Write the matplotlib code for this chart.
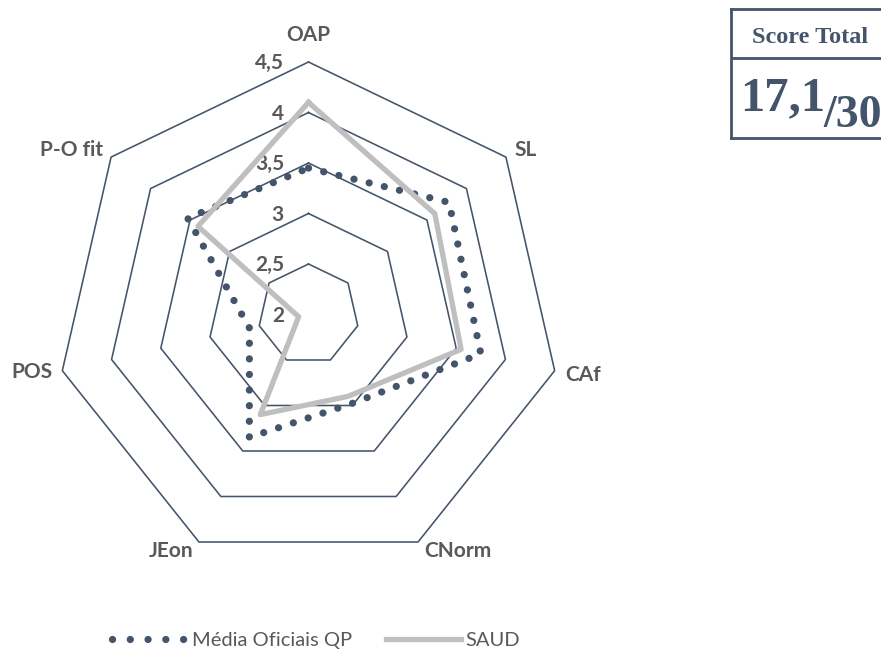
import numpy as np
import matplotlib.pyplot as plt
from matplotlib.lines import Line2D

# dimensões avaliadas (sentido horário a partir do topo)
categorias = ['OAP', 'SL', 'CAf', 'CNorm', 'JEon', 'POS', 'P-O fit']
media_qp = [3.45, 3.78, 3.75, 2.98, 3.35, 2.60, 3.53]
saud = [4.10, 3.60, 3.55, 2.90, 3.10, 2.10, 3.40]
niveis = [2.0, 2.5, 3.0, 3.5, 4.0, 4.5]
niveis_txt = ['2', '2,5', '3', '3,5', '4', '4,5']
series_txt = ['Média Oficiais QP', 'SAUD']
score_txt = '17,1'
score_max_txt = '/30'

azul = '#44546A'
cinza = '#BFBFBF'
cinza_txt = '#595959'
fonte = 'Lato'

# deslocamento (px) dos rótulos das dimensões em relação ao vértice exterior
desloc_rot = [(0, 26.6), (19.3, 7), (28, -4.3), (39.4, -8.9),
              (-27.9, -8.9), (-30, -1.3), (-40, 7)]

fig = plt.figure(figsize=(8.81, 6.5), dpi=100)
ax = fig.add_axes([0, 0, 1, 1])
ppu = 101.0            # pixeis por unidade da escala
cx, cy = 308.5, 314.5  # centro do radar (px a partir do canto sup. esq.)
ax.set_xlim(-cx / ppu, (881 - cx) / ppu)
ax.set_ylim(-(650 - cy) / ppu, cy / ppu)
ax.axis('off')

vmin = niveis[0]
ang = np.arange(len(categorias)) * 2 * np.pi / len(categorias)


def fecha(vals):
    r = np.asarray(vals, dtype=float) - vmin
    x, y = r * np.sin(ang), r * np.cos(ang)
    return np.append(x, x[0]), np.append(y, y[0])


# heptágonos da grelha
for v in niveis[1:]:
    x, y = fecha([v] * len(categorias))
    ax.plot(x, y, color=azul, lw=1.15, zorder=1)

# rótulos da escala
for v, t in zip(niveis, niveis_txt):
    ax.annotate(t, (0, v - vmin), xytext=(-24.5, -1), textcoords='offset pixels',
                ha='right', va='center', fontsize=15, fontweight='bold',
                color=cinza_txt, family=fonte)

# rótulos das dimensões
rmax = niveis[-1] - vmin
for a, nome, d in zip(ang, categorias, desloc_rot):
    ax.annotate(nome, (rmax * np.sin(a), rmax * np.cos(a)), xytext=d,
                textcoords='offset pixels', ha='center', va='center',
                fontsize=15, fontweight='bold', color=cinza_txt, family=fonte)

pontilhado = (0, (0.01, 2.15))
x, y = fecha(media_qp)
ax.plot(x, y, color=azul, lw=5.2, ls=pontilhado, dash_capstyle='round', zorder=3)
x, y = fecha(saud)
ax.plot(x, y, color=cinza, lw=3.8, solid_joinstyle='round', zorder=4)

handles = [Line2D([], [], color=azul, lw=5.2, ls=(0, (0.01, 2.45)),
                  dash_capstyle='round'),
           Line2D([], [], color=cinza, lw=3.8)]
fig.legend(handles, series_txt, loc='center', bbox_to_anchor=(316 / 881, 10 / 650),
           ncol=2, frameon=False, handlelength=3.75, handletextpad=0.2,
           columnspacing=1.7, labelcolor=cinza_txt,
           prop=dict(family=fonte, size=14.5))

# caixa do score total
bx = fig.add_axes([730.7 / 881, (650 - 138.3) / 650, 200 / 881, 129 / 650])
bx.set_xticks([])
bx.set_yticks([])
bx.patch.set_alpha(0)
for s in bx.spines.values():
    s.set_color(azul)
    s.set_linewidth(2)
bx.axhline(0.62, color=azul, lw=2)
bx.text(0.397, 0.736, 'Score Total', ha='center', va='baseline', color=azul,
        fontsize=17.5, fontweight='bold', family='Liberation Serif')
bx.text(0.0465, 0.219, score_txt, ha='left', va='baseline', color=azul,
        fontsize=35, fontweight='bold', family='Liberation Serif')
bx.text(0.463, 0.09, score_max_txt, ha='left', va='baseline', color=azul,
        fontsize=33, fontweight='bold', family='Liberation Serif')

fig.savefig('out.png', dpi=100)
